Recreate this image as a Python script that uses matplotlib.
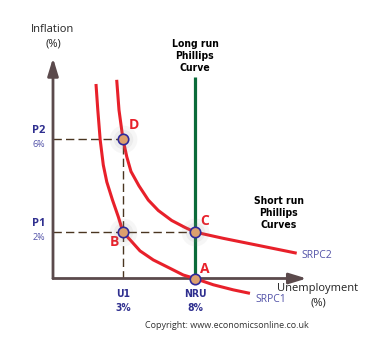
import numpy as np
import matplotlib
matplotlib.use("Agg")
import matplotlib.pyplot as plt

# Short run Phillips curves: unemployment (%) and inflation (%)
srpc1_u = [1.526, 1.616, 1.737, 1.897, 2.083, 2.395, 2.725, 3.0, 3.530, 4.057,
           4.941, 6.117, 7.104, 8.0, 9.468, 11.15, 12.60]
srpc1_p = [8.38, 7.26, 5.97, 4.89, 4.16, 3.38, 2.66, 2.0, 1.59, 1.19,
           0.80, 0.44, 0.15, 0.0, -0.27, -0.49, -0.64]

srpc2_u = [2.633, 2.765, 3.0, 3.229, 3.486, 3.992, 4.603, 5.286, 6.241, 7.231,
           8.0, 10.30, 13.20, 16.93]
srpc2_p = [8.56, 7.26, 6.0, 5.24, 4.61, 3.99, 3.38, 2.93, 2.50, 2.20,
           2.0, 1.73, 1.44, 1.09]

# Long run Phillips curve sits at the natural rate of unemployment
nru = 8.0
lrpc_top = 8.69

# Labelled equilibrium points
point_names = ["A", "B", "C", "D"]
point_u = [8.0, 3.0, 8.0, 3.0]
point_p = [0.0, 2.0, 2.0, 6.0]

# Axis tick labels
p_levels = [6.0, 2.0]
p_names = ["P2", "P1"]
p_values = ["6%", "2%"]
u_levels = [3.0, 8.0]
u_names = ["U1", "NRU"]
u_values = ["3%", "8%"]

RED = "#e8202a"
GREEN = "#0b6b3a"
AXIS = "#5b4a4c"
DASH = "#4a3520"
BLUE = "#2f2f8f"
LIGHT_BLUE = "#5252a8"

plt.rcParams["font.family"] = ["Open Sans", "DejaVu Sans"]

fig = plt.figure(figsize=(3.71, 3.40), dpi=100)
ax = fig.add_axes([53 / 371, 1 - 278.5 / 340, 253.7 / 371, 220.5 / 340])


# stretched unemployment axis
def fwd(u):
    return np.sign(u) * np.abs(u) ** 0.721


def inv(s):
    return np.sign(s) * np.abs(s) ** (1 / 0.721)


ax.set_xscale("function", functions=(fwd, inv))
ax.set_xlim(0, 17.9)
ax.set_ylim(0, 9.50)
ax.axis("off")

# axes drawn as arrows
arrow = dict(arrowstyle="-|>,head_length=1.05,head_width=0.32", lw=2.0,
             color=AXIS, shrinkA=0, shrinkB=0)
ax.annotate("", xy=(1, 0), xytext=(0, 0), xycoords="axes fraction", arrowprops=arrow)
ax.annotate("", xy=(0, 1), xytext=(0, 0), xycoords="axes fraction", arrowprops=arrow)

# dashed guide lines
dash = dict(color=DASH, lw=1.0, dashes=(6, 3), zorder=2)
ax.plot([0, u_levels[0]], [p_levels[0], p_levels[0]], **dash)
ax.plot([u_levels[0], u_levels[0]], [0, p_levels[0]], **dash)
ax.plot([0, u_levels[1]], [p_levels[1], p_levels[1]], **dash)

ax.plot([nru, nru], [0, lrpc_top], color=GREEN, lw=2.3, zorder=3, solid_capstyle="butt")

for us, ps in [(srpc1_u, srpc1_p), (srpc2_u, srpc2_p)]:
    ax.plot(us, ps, color=RED, lw=2.2, zorder=4, clip_on=False,
            solid_capstyle="butt", solid_joinstyle="round")

# points with a soft halo
for name, u, p in zip(point_names, point_u, point_p):
    if name != "A":
        ax.plot(u, p, "o", ms=20, color="#888888", alpha=0.07, mec="none", zorder=5, clip_on=False)
        ax.plot(u, p, "o", ms=14, color="#888888", alpha=0.09, mec="none", zorder=5, clip_on=False)
    ax.plot(u, p, "o", ms=7.5, mfc="#dca06e", mec="#2f2a9a", mew=1.2, zorder=6, clip_on=False)

offsets = {"A": (7, 7), "B": (-6.5, -7.5), "C": (7, 8), "D": (8, 10)}
for name, u, p in zip(point_names, point_u, point_p):
    ax.annotate(name, xy=(u, p), xytext=offsets[name], textcoords="offset points",
                ha="center", va="center", color=RED, fontsize=10, fontweight="bold")

for lvl, nm, val in zip(p_levels, p_names, p_values):
    ax.annotate(nm, xy=(0, lvl), xycoords=("axes fraction", "data"), xytext=(-10, 6.5),
                textcoords="offset points", ha="center", va="center",
                color=BLUE, fontsize=8, fontweight="bold")
    ax.annotate(val, xy=(0, lvl), xycoords=("axes fraction", "data"), xytext=(-10, -4),
                textcoords="offset points", ha="center", va="center",
                color=LIGHT_BLUE, fontsize=6.5)

for lvl, nm, val in zip(u_levels, u_names, u_values):
    ax.annotate(nm, xy=(lvl, 0), xytext=(0, -11), textcoords="offset points",
                ha="center", va="center", color=BLUE, fontsize=7.5,
                fontweight="bold", family="DejaVu Sans", fontstretch="condensed")
    ax.annotate(val, xy=(lvl, 0), xytext=(0, -21), textcoords="offset points",
                ha="center", va="center", color=BLUE, fontsize=7.5,
                fontweight="bold", family="DejaVu Sans", fontstretch="condensed")


def px(x, y):
    return x / 371, 1 - y / 340


fig.text(*px(53, 30), "Inflation", ha="center", va="center", fontsize=8, color="#222222")
fig.text(*px(53, 44), "(%)", ha="center", va="center", fontsize=8, color="#222222")

fig.text(*px(318, 288), "Unemployment", ha="center", va="center", fontsize=8, color="#222222")
fig.text(*px(318, 303), "(%)", ha="center", va="center", fontsize=8, color="#222222")

fig.text(*px(195, 56), "Long run\nPhillips\nCurve", ha="center", va="center",
         fontsize=7.5, fontweight="bold", family="DejaVu Sans", fontstretch="condensed",
         linespacing=1.3)
fig.text(*px(279, 213), "Short run\nPhillips\nCurves", ha="center", va="center",
         fontsize=7.5, fontweight="bold", family="DejaVu Sans", fontstretch="condensed",
         linespacing=1.3)

fig.text(*px(301, 255), "SRPC2", ha="left", va="center", fontsize=7.5, color=LIGHT_BLUE)
fig.text(*px(255, 300), "SRPC1", ha="left", va="center", fontsize=7.5, color=LIGHT_BLUE)

fig.text(*px(227, 326), "Copyright: www.economicsonline.co.uk", ha="center", va="center",
         fontsize=6.5, color="#333333")

fig.savefig("out.png", dpi=100)
